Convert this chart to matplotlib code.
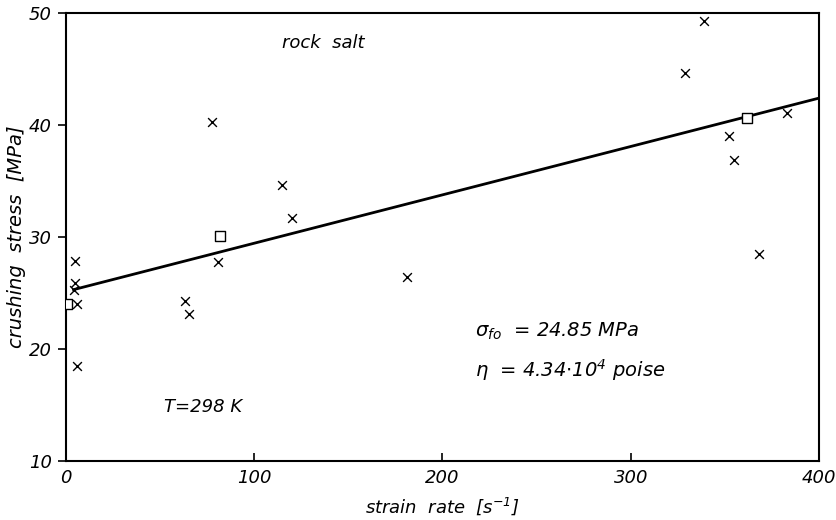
import matplotlib.pyplot as plt
import numpy as np

# crosses: strain rate [1/s], crushing stress [MPa]
cross_x = [5, 5, 4, 6, 6, 63, 65.5, 81, 77.5, 115, 120, 181, 339, 329, 352, 355, 368, 383]
cross_y = [27.9, 25.9, 25.3, 24.0, 18.5, 24.3, 23.1, 27.8, 40.3, 34.6, 31.7, 26.4, 49.3, 44.6, 39.0, 36.9, 28.5, 41.1]

# squares (mean values)
sq_x = [0.5, 82, 362]
sq_y = [24.0, 30.1, 40.6]

# fitted line
fit_x = [4, 400]
fit_y = [25.3, 42.4]

plt.rcParams['font.family'] = 'DejaVu Sans'
plt.rcParams['font.style'] = 'italic'
plt.rcParams['mathtext.default'] = 'it'

fig = plt.figure(figsize=(8.37, 5.2), dpi=100)
ax = fig.add_axes([66 / 837, 1 - 461 / 520, (819 - 66) / 837, (461 - 13) / 520])

ax.plot(fit_x, fit_y, color='black', lw=2.0, zorder=2)
ax.scatter(cross_x, cross_y, marker='x', s=40, color='black', linewidths=1.0, zorder=3)
ax.scatter(sq_x, sq_y, marker='s', s=45, facecolor='white', edgecolor='black', linewidths=1.0, zorder=4)

ax.set_xlim(0, 400)
ax.set_ylim(10, 50)
ax.set_xticks([0, 100, 200, 300, 400])
ax.set_yticks([10, 20, 30, 40, 50])
ax.tick_params(axis='x', direction='in', length=6, width=1.2, labelsize=13, pad=6)
ax.tick_params(axis='y', direction='out', length=6, width=1.2, labelsize=13, pad=4)
for s in ax.spines.values():
    s.set_linewidth(1.5)

ax.set_xlabel('strain  rate  [s$^{-1}$]', fontsize=13, labelpad=6)
ax.set_ylabel('crushing  stress  [MPa]', fontsize=14, labelpad=2)

ax.text(115, 47.3, 'rock  salt', fontsize=13, va='center')
ax.text(52, 14.8, 'T=298 K', fontsize=13, va='center')
ax.text(217, 21.6, r'$\sigma_{fo}$  = 24.85 MPa', fontsize=14, va='center')
ax.text(217, 18.1, r'$\eta$  = 4.34$\cdot$10$^4$ poise', fontsize=14, va='center')

fig.savefig('out.png', dpi=100)
